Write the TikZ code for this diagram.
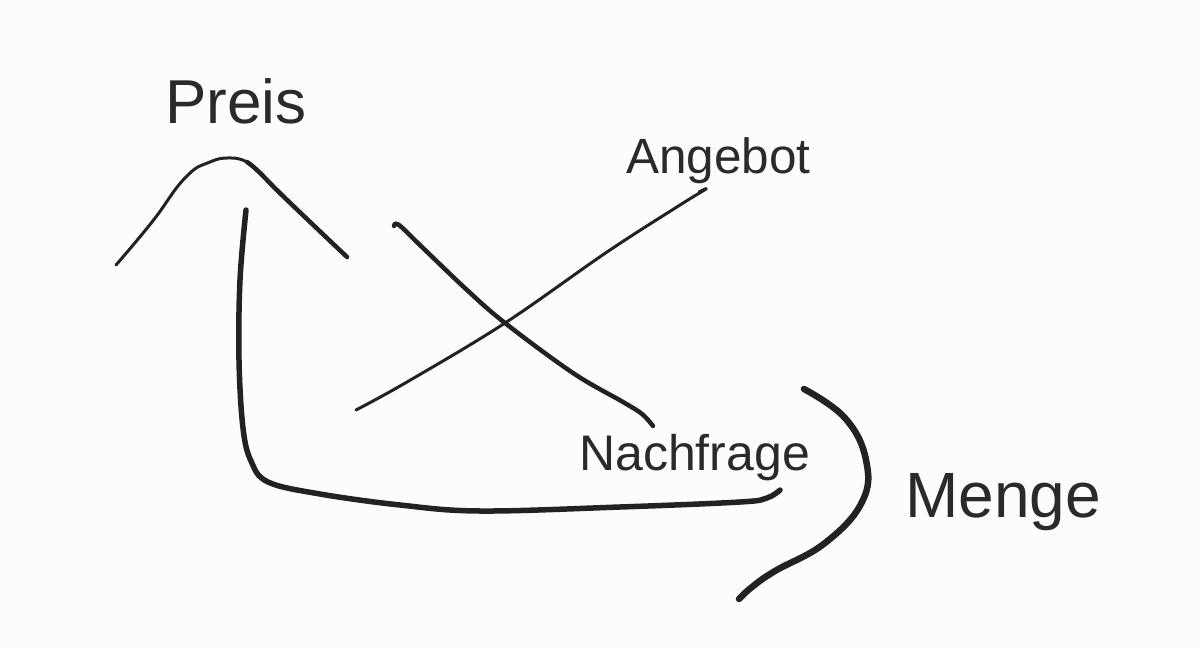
\documentclass[tikz,border=0pt]{standalone}
\usepackage{fontspec}
\setmainfont{Liberation Sans}
\definecolor{ink}{HTML}{222222}
\definecolor{txt}{HTML}{2A2A2A}
\definecolor{paper}{HTML}{FCFCFC}
\tikzset{
  stroke/.style={draw=ink, line cap=round, line join=round},
  lbl/.style={anchor=base west, inner sep=0pt, text=txt},
}
\begin{document}
\begin{tikzpicture}[x=1pt,y=-1pt]
\fill[paper] (0,0) rectangle (1200,648);
\useasboundingbox (0,0) rectangle (1200,648);
% labels
\node[lbl, font=\fontsize{62}{72}\selectfont] (preis) at (165,123) {Preis};
\node[lbl, font=\fontsize{49.5}{58}\selectfont] (angebot) at (626,173) {Angebot};
\node[lbl, font=\fontsize{50}{60}\selectfont] (nachfrage) at (579,470) {Nachfrage};
\node[lbl, font=\fontsize{64}{74}\selectfont] (menge) at (905,517) {Menge};
% hump
\draw[stroke, line width=3pt] plot[smooth, tension=0.8] coordinates
  {(116,265) (152,222) (185,178) (210,162) (232,158) (247,162)};
\draw[stroke, line width=4.5pt] plot[smooth, tension=0.7] coordinates
  {(247,162) (258,171) (285,198) (347,257)};
% axis
\draw[stroke, line width=5.5pt] plot[smooth, tension=0.6] coordinates
  {(246,210) (240,280) (239,360) (243,428) (251,461) (268,482) (320,494)
   (400,505) (480,511) (620,507) (740,502) (767,498) (780,490)};
% Angebot line
\draw[stroke, line width=3pt] plot[smooth, tension=0.6] coordinates
  {(356,410) (407,382) (505,323) (607,252) (680,205) (706,189) (699,192)};
% Nachfrage line
\draw[stroke, line width=4.5pt] plot[smooth, tension=0.6] coordinates
  {(394,226) (399,225) (423,248) (467,290) (505,323) (573,373) (623,402) (642,414) (653,426)};
% bracket
\draw[stroke, line width=6.5pt] plot[smooth, tension=0.7] coordinates
  {(804,389) (845,418) (866,460) (862,502) (825,543) (775,571) (752,587) (739,599)};
\end{tikzpicture}
\end{document}
